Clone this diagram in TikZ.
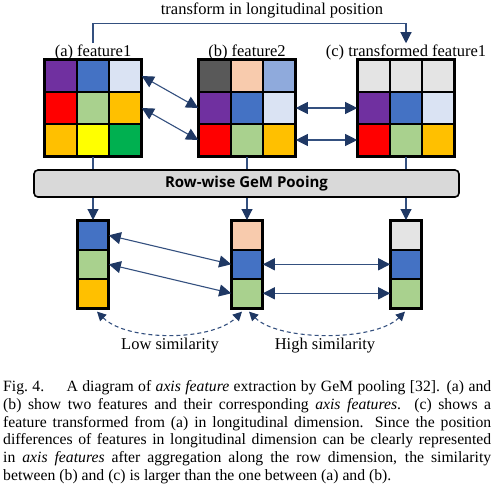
\documentclass[tikz,border=0pt]{standalone}
\usepackage{fontspec}
\setmainfont{Liberation Serif}
\newfontfamily\poolfont{Open Sans}
\usetikzlibrary{arrows.meta,calc}
\definecolor{cpurple}{HTML}{7030A0}
\definecolor{cblue}{HTML}{4472C4}
\definecolor{cpale}{HTML}{DAE3F3}
\definecolor{cred}{HTML}{FF0000}
\definecolor{cgreen}{HTML}{A9D18E}
\definecolor{corange}{HTML}{FFC000}
\definecolor{cyellow}{HTML}{FFFF00}
\definecolor{cdgreen}{HTML}{00B050}
\definecolor{cdark}{HTML}{595959}
\definecolor{cpeach}{HTML}{F8CBAD}
\definecolor{cmid}{HTML}{8FAADC}
\definecolor{cgray}{HTML}{E4E4E4}
\definecolor{cbox}{HTML}{D9D9D9}
\definecolor{navy}{HTML}{1F3864}
\definecolor{linkc}{HTML}{34507F}
\begin{document}
\begin{tikzpicture}[x=1pt,y=-1pt,
    cell/.style={draw=black,line width=1.6pt,minimum width=32pt,minimum height=32pt,inner sep=0pt},
    vcell/.style={cell,minimum width=30pt,minimum height=29pt},
    link/.style={draw=linkc,line width=1.1pt},
    both/.style={link,{Triangle[length=12pt,width=12pt,color=navy]}-{Triangle[length=12pt,width=12pt,color=navy]}},
    down/.style={link,-{Triangle[length=11pt,width=11pt,color=navy]}},
    simarc/.style={link,dash pattern=on 4pt off 3pt,{Triangle[length=9pt,width=9pt,color=navy]}-{Triangle[length=9pt,width=9pt,color=navy]}},
    lbl/.style={font=\fontsize{16.5}{18}\selectfont,inner sep=1pt}]
        \useasboundingbox (0,0) rectangle (494,488);
        % feature grids
        \foreach \g/\gx/\cols in {a/45/{cpurple,cblue,cpale,cred,cgreen,corange,corange,cyellow,cdgreen},
                                  b/199/{cdark,cpeach,cmid,cpurple,cblue,cpale,cred,cgreen,corange},
                                  c/358/{cgray,cgray,cgray,cpurple,cblue,cpale,cred,cgreen,corange}} {
            \foreach \clr [count=\k from 0] in \cols {
                \pgfmathtruncatemacro\rr{floor(\k/3)+1}
                \pgfmathtruncatemacro\cc{mod(\k,3)+1}
                \node [cell,fill=\clr] (\g\rr\cc) at (\gx+16+32*\cc-32,76+32*\rr-32) {};
            }
            \draw [line width=2.4pt] (\g11.north west) rectangle (\g33.south east);
        }
        % labels
        \node [lbl] (lbla) at (93,52) {(a) feature1};
        \node [lbl] (lblb) at (247,52) {(b) feature2};
        \node [lbl] (lblc) at (406,52) {(c) transformed feature1};
        \node [lbl] (lbltop) at (272,10) {transform in longitudinal position};
        \draw [down] (lbla.north) -- ++(0,-20) -| (lblc.north);
        % matches between grids
        \draw [both] (a13.east) -- (b21.west);
        \draw [both] (a23.east) -- (b31.west);
        \draw [both] (b23.east) -- (c21.west);
        \draw [both] (b33.east) -- (c31.west);
        % pooling
        \node [draw,rounded corners=4pt,fill=cbox,line width=1.6pt,minimum width=425pt,minimum height=27pt,
               font=\poolfont\bfseries\fontsize{15}{18}\selectfont] (pool) at (246.5,183.5) {Row-wise GeM Pooing};
        % axis features
        \foreach \g/\cols in {a/{cblue,cgreen,corange},b/{cpeach,cblue,cgreen},c/{cgray,cblue,cgreen}} {
            \foreach \clr [count=\k] in \cols {
                \node [vcell,fill=\clr] (v\g\k) at ($(\g32.south)+(0,49.5+29*\k)$) {};
            }
            \draw [line width=2.2pt] (v\g1.north west) rectangle (v\g3.south east);
            \draw [link] (\g32.south) -- (\g32.south |- pool.north);
            \draw [down] (\g32.south |- pool.south) -- (v\g1.north);
        }
        \draw [both] (va1.east) -- (vb2.west);
        \draw [both] (va2.east) -- (vb3.west);
        \draw [both] (vb2.east) -- (vc2.west);
        \draw [both] (vb3.east) -- (vc3.west);
        % similarity
        \draw [simarc] ($(va3.south)+(4,3)$) .. controls +(30,30) and +(-30,30) .. ($(vb3.south)+(-5,3)$);
        \draw [simarc] ($(vb3.south)+(2,3)$) .. controls +(30,30) and +(-30,30) .. ($(vc3.south)+(-1,3)$);
        \node [lbl] (low) at (170,346) {Low similarity};
        \node [lbl] (high) at (325,346) {High similarity};
        % caption
        \node [anchor=north west,inner sep=0pt,text width=488pt,align=justify,
               font=\fontsize{15.7}{17.9}\selectfont] (cap) at (3,380) {Fig.~4.\hspace{1em} A diagram of \textit{axis feature} extraction by GeM pooling [32]. (a) and\linebreak
            (b) show two features and their corresponding \textit{axis features}. (c) shows a\linebreak
            feature transformed from (a) in longitudinal dimension. Since the position\linebreak
            differences of features in longitudinal dimension can be clearly represented\linebreak
            in \textit{axis features} after aggregation along the row dimension, the similarity\linebreak
            between (b) and (c) is larger than the one between (a) and (b).};
\end{tikzpicture}
\end{document}
